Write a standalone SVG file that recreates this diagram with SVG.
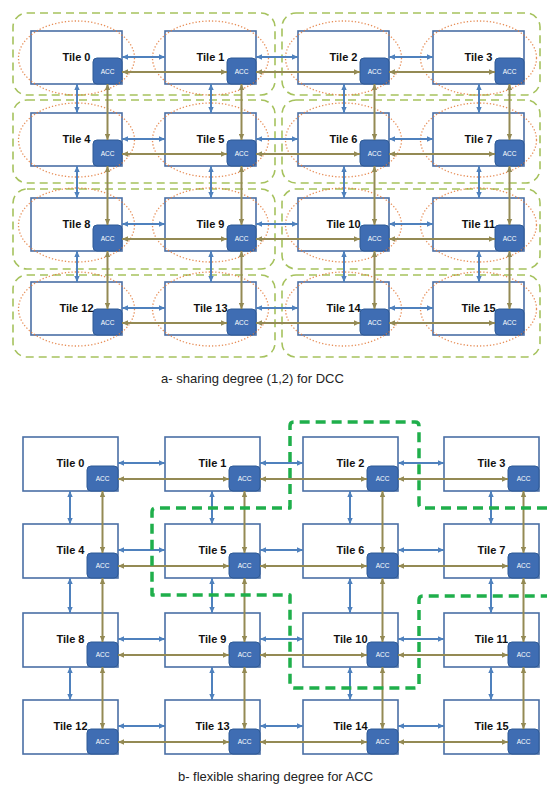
<svg xmlns="http://www.w3.org/2000/svg" width="547" height="789" viewBox="0 0 547 789">
<defs>
<style>
.tile{fill:#fff;stroke:#4A6FA5;stroke-width:1.6}
.acc{fill:#3F6DB3;stroke:#2E5A96;stroke-width:1}
.tl{font-family:"Liberation Sans",Arial,sans-serif;font-weight:bold;font-size:11px;fill:#111;text-anchor:middle}
.acct{font-family:"Liberation Sans",Arial,sans-serif;font-size:6.5px;fill:#fff;text-anchor:middle}
.cap{font-family:"Liberation Sans",Arial,sans-serif;font-size:13px;fill:#222;text-anchor:middle}
.grp{fill:none;stroke:#A6C25E;stroke-width:1.6;stroke-dasharray:8,5}
.ell{fill:none;stroke:#E37B3C;stroke-width:1.3;stroke-dasharray:1.3,2;stroke-opacity:0.85}
.bl{stroke:#4F81BD;stroke-width:2;marker-start:url(#mb);marker-end:url(#mb)}
.br{stroke:#948A54;stroke-width:2;marker-start:url(#mo);marker-end:url(#mo)}
.share{fill:none;stroke:#1FAF4B;stroke-width:3.5;stroke-dasharray:10,6;stroke-linejoin:round}
</style>
<marker id="mb" viewBox="0 0 6 6" refX="6" refY="3" markerWidth="6" markerHeight="6" markerUnits="userSpaceOnUse" orient="auto-start-reverse"><path d="M0,0.3 L6,3 L0,5.7 z" fill="#4F81BD"/></marker>
<marker id="mo" viewBox="0 0 6 6" refX="6" refY="3" markerWidth="6" markerHeight="6" markerUnits="userSpaceOnUse" orient="auto-start-reverse"><path d="M0,0.3 L6,3 L0,5.7 z" fill="#948A54"/></marker>
</defs>
<rect width="547" height="789" fill="#fff"/>

<!-- Part a: sharing groups -->
<g id="a-groups">
<rect class="grp" x="13" y="13" width="262" height="82" rx="14"/>
<rect class="grp" x="282" y="13" width="258" height="82" rx="14"/>
<rect class="grp" x="13" y="100" width="262" height="83" rx="14"/>
<rect class="grp" x="282" y="100" width="258" height="83" rx="14"/>
<rect class="grp" x="13" y="189" width="262" height="80" rx="14"/>
<rect class="grp" x="282" y="189" width="258" height="80" rx="14"/>
<rect class="grp" x="13" y="275" width="262" height="82" rx="14"/>
<rect class="grp" x="282" y="275" width="258" height="82" rx="14"/>
</g>

<!-- Part a tiles -->
<g id="a-tile0" transform="translate(31,31)"><rect class="tile" width="91" height="53"/><rect class="acc" x="62" y="27" width="29" height="26" rx="4"/><text class="tl" x="45.5" y="30">Tile 0</text><text class="acct" x="76.5" y="42.5">ACC</text></g>
<g id="a-tile1" transform="translate(165,31)"><rect class="tile" width="91" height="53"/><rect class="acc" x="62" y="27" width="29" height="26" rx="4"/><text class="tl" x="45.5" y="30">Tile 1</text><text class="acct" x="76.5" y="42.5">ACC</text></g>
<g id="a-tile2" transform="translate(298,31)"><rect class="tile" width="91" height="53"/><rect class="acc" x="62" y="27" width="29" height="26" rx="4"/><text class="tl" x="45.5" y="30">Tile 2</text><text class="acct" x="76.5" y="42.5">ACC</text></g>
<g id="a-tile3" transform="translate(433,31)"><rect class="tile" width="91" height="53"/><rect class="acc" x="62" y="27" width="29" height="26" rx="4"/><text class="tl" x="45.5" y="30">Tile 3</text><text class="acct" x="76.5" y="42.5">ACC</text></g>
<g id="a-tile4" transform="translate(31,113)"><rect class="tile" width="91" height="53"/><rect class="acc" x="62" y="27" width="29" height="26" rx="4"/><text class="tl" x="45.5" y="30">Tile 4</text><text class="acct" x="76.5" y="42.5">ACC</text></g>
<g id="a-tile5" transform="translate(165,113)"><rect class="tile" width="91" height="53"/><rect class="acc" x="62" y="27" width="29" height="26" rx="4"/><text class="tl" x="45.5" y="30">Tile 5</text><text class="acct" x="76.5" y="42.5">ACC</text></g>
<g id="a-tile6" transform="translate(298,113)"><rect class="tile" width="91" height="53"/><rect class="acc" x="62" y="27" width="29" height="26" rx="4"/><text class="tl" x="45.5" y="30">Tile 6</text><text class="acct" x="76.5" y="42.5">ACC</text></g>
<g id="a-tile7" transform="translate(433,113)"><rect class="tile" width="91" height="53"/><rect class="acc" x="62" y="27" width="29" height="26" rx="4"/><text class="tl" x="45.5" y="30">Tile 7</text><text class="acct" x="76.5" y="42.5">ACC</text></g>
<g id="a-tile8" transform="translate(31,198)"><rect class="tile" width="91" height="53"/><rect class="acc" x="62" y="27" width="29" height="26" rx="4"/><text class="tl" x="45.5" y="30">Tile 8</text><text class="acct" x="76.5" y="42.5">ACC</text></g>
<g id="a-tile9" transform="translate(165,198)"><rect class="tile" width="91" height="53"/><rect class="acc" x="62" y="27" width="29" height="26" rx="4"/><text class="tl" x="45.5" y="30">Tile 9</text><text class="acct" x="76.5" y="42.5">ACC</text></g>
<g id="a-tile10" transform="translate(298,198)"><rect class="tile" width="91" height="53"/><rect class="acc" x="62" y="27" width="29" height="26" rx="4"/><text class="tl" x="45.5" y="30">Tile 10</text><text class="acct" x="76.5" y="42.5">ACC</text></g>
<g id="a-tile11" transform="translate(433,198)"><rect class="tile" width="91" height="53"/><rect class="acc" x="62" y="27" width="29" height="26" rx="4"/><text class="tl" x="45.5" y="30">Tile 11</text><text class="acct" x="76.5" y="42.5">ACC</text></g>
<g id="a-tile12" transform="translate(31,282)"><rect class="tile" width="91" height="53"/><rect class="acc" x="62" y="27" width="29" height="26" rx="4"/><text class="tl" x="45.5" y="30">Tile 12</text><text class="acct" x="76.5" y="42.5">ACC</text></g>
<g id="a-tile13" transform="translate(165,282)"><rect class="tile" width="91" height="53"/><rect class="acc" x="62" y="27" width="29" height="26" rx="4"/><text class="tl" x="45.5" y="30">Tile 13</text><text class="acct" x="76.5" y="42.5">ACC</text></g>
<g id="a-tile14" transform="translate(298,282)"><rect class="tile" width="91" height="53"/><rect class="acc" x="62" y="27" width="29" height="26" rx="4"/><text class="tl" x="45.5" y="30">Tile 14</text><text class="acct" x="76.5" y="42.5">ACC</text></g>
<g id="a-tile15" transform="translate(433,282)"><rect class="tile" width="91" height="53"/><rect class="acc" x="62" y="27" width="29" height="26" rx="4"/><text class="tl" x="45.5" y="30">Tile 15</text><text class="acct" x="76.5" y="42.5">ACC</text></g>

<!-- Part a: DCC ellipses -->
<g id="a-dcc">
<ellipse class="ell" cx="76.5" cy="58" rx="58" ry="37"/>
<ellipse class="ell" cx="210.5" cy="58" rx="58" ry="37"/>
<ellipse class="ell" cx="343.5" cy="58" rx="58" ry="37"/>
<ellipse class="ell" cx="478.5" cy="58" rx="58" ry="37"/>
<ellipse class="ell" cx="76.5" cy="140" rx="58" ry="37"/>
<ellipse class="ell" cx="210.5" cy="140" rx="58" ry="37"/>
<ellipse class="ell" cx="343.5" cy="140" rx="58" ry="37"/>
<ellipse class="ell" cx="478.5" cy="140" rx="58" ry="37"/>
<ellipse class="ell" cx="76.5" cy="225" rx="58" ry="37"/>
<ellipse class="ell" cx="210.5" cy="225" rx="58" ry="37"/>
<ellipse class="ell" cx="343.5" cy="225" rx="58" ry="37"/>
<ellipse class="ell" cx="478.5" cy="225" rx="58" ry="37"/>
<ellipse class="ell" cx="76.5" cy="309" rx="58" ry="37"/>
<ellipse class="ell" cx="210.5" cy="309" rx="58" ry="37"/>
<ellipse class="ell" cx="343.5" cy="309" rx="58" ry="37"/>
<ellipse class="ell" cx="478.5" cy="309" rx="58" ry="37"/>
</g>

<!-- Part a connectors -->
<g id="a-connectors">
<line class="bl" x1="122" y1="57" x2="165" y2="57"/><line class="bl" x1="256" y1="57" x2="298" y2="57"/><line class="bl" x1="389" y1="57" x2="433" y2="57"/>
<line class="bl" x1="122" y1="139" x2="165" y2="139"/><line class="bl" x1="256" y1="139" x2="298" y2="139"/><line class="bl" x1="389" y1="139" x2="433" y2="139"/>
<line class="bl" x1="122" y1="224" x2="165" y2="224"/><line class="bl" x1="256" y1="224" x2="298" y2="224"/><line class="bl" x1="389" y1="224" x2="433" y2="224"/>
<line class="bl" x1="122" y1="308" x2="165" y2="308"/><line class="bl" x1="256" y1="308" x2="298" y2="308"/><line class="bl" x1="389" y1="308" x2="433" y2="308"/>
<line class="br" x1="122" y1="72" x2="227" y2="72"/><line class="br" x1="256" y1="72" x2="360" y2="72"/><line class="br" x1="389" y1="72" x2="495" y2="72"/>
<line class="br" x1="122" y1="154" x2="227" y2="154"/><line class="br" x1="256" y1="154" x2="360" y2="154"/><line class="br" x1="389" y1="154" x2="495" y2="154"/>
<line class="br" x1="122" y1="239" x2="227" y2="239"/><line class="br" x1="256" y1="239" x2="360" y2="239"/><line class="br" x1="389" y1="239" x2="495" y2="239"/>
<line class="br" x1="122" y1="323" x2="227" y2="323"/><line class="br" x1="256" y1="323" x2="360" y2="323"/><line class="br" x1="389" y1="323" x2="495" y2="323"/>
<line class="bl" x1="77" y1="84" x2="77" y2="113"/><line class="bl" x1="211" y1="84" x2="211" y2="113"/><line class="bl" x1="344" y1="84" x2="344" y2="113"/><line class="bl" x1="479" y1="84" x2="479" y2="113"/>
<line class="bl" x1="77" y1="166" x2="77" y2="198"/><line class="bl" x1="211" y1="166" x2="211" y2="198"/><line class="bl" x1="344" y1="166" x2="344" y2="198"/><line class="bl" x1="479" y1="166" x2="479" y2="198"/>
<line class="bl" x1="77" y1="251" x2="77" y2="282"/><line class="bl" x1="211" y1="251" x2="211" y2="282"/><line class="bl" x1="344" y1="251" x2="344" y2="282"/><line class="bl" x1="479" y1="251" x2="479" y2="282"/>
<line class="br" x1="107.5" y1="84" x2="107.5" y2="140"/><line class="br" x1="241.5" y1="84" x2="241.5" y2="140"/><line class="br" x1="374.5" y1="84" x2="374.5" y2="140"/><line class="br" x1="509.5" y1="84" x2="509.5" y2="140"/>
<line class="br" x1="107.5" y1="166" x2="107.5" y2="225"/><line class="br" x1="241.5" y1="166" x2="241.5" y2="225"/><line class="br" x1="374.5" y1="166" x2="374.5" y2="225"/><line class="br" x1="509.5" y1="166" x2="509.5" y2="225"/>
<line class="br" x1="107.5" y1="251" x2="107.5" y2="309"/><line class="br" x1="241.5" y1="251" x2="241.5" y2="309"/><line class="br" x1="374.5" y1="251" x2="374.5" y2="309"/><line class="br" x1="509.5" y1="251" x2="509.5" y2="309"/>
</g>

<text class="cap" x="252.5" y="383">a- sharing degree (1,2) for DCC</text>

<!-- Part b tiles -->
<g id="b-tile0" transform="translate(23,437)"><rect class="tile" width="95" height="54"/><rect class="acc" x="64" y="29" width="31" height="25" rx="4"/><text class="tl" x="47.5" y="30">Tile 0</text><text class="acct" x="79.5" y="44">ACC</text></g>
<g id="b-tile1" transform="translate(165,437)"><rect class="tile" width="95" height="54"/><rect class="acc" x="64" y="29" width="31" height="25" rx="4"/><text class="tl" x="47.5" y="30">Tile 1</text><text class="acct" x="79.5" y="44">ACC</text></g>
<g id="b-tile2" transform="translate(303,437)"><rect class="tile" width="95" height="54"/><rect class="acc" x="64" y="29" width="31" height="25" rx="4"/><text class="tl" x="47.5" y="30">Tile 2</text><text class="acct" x="79.5" y="44">ACC</text></g>
<g id="b-tile3" transform="translate(444,437)"><rect class="tile" width="95" height="54"/><rect class="acc" x="64" y="29" width="31" height="25" rx="4"/><text class="tl" x="47.5" y="30">Tile 3</text><text class="acct" x="79.5" y="44">ACC</text></g>
<g id="b-tile4" transform="translate(23,524)"><rect class="tile" width="95" height="54"/><rect class="acc" x="64" y="29" width="31" height="25" rx="4"/><text class="tl" x="47.5" y="30">Tile 4</text><text class="acct" x="79.5" y="44">ACC</text></g>
<g id="b-tile5" transform="translate(165,524)"><rect class="tile" width="95" height="54"/><rect class="acc" x="64" y="29" width="31" height="25" rx="4"/><text class="tl" x="47.5" y="30">Tile 5</text><text class="acct" x="79.5" y="44">ACC</text></g>
<g id="b-tile6" transform="translate(303,524)"><rect class="tile" width="95" height="54"/><rect class="acc" x="64" y="29" width="31" height="25" rx="4"/><text class="tl" x="47.5" y="30">Tile 6</text><text class="acct" x="79.5" y="44">ACC</text></g>
<g id="b-tile7" transform="translate(444,524)"><rect class="tile" width="95" height="54"/><rect class="acc" x="64" y="29" width="31" height="25" rx="4"/><text class="tl" x="47.5" y="30">Tile 7</text><text class="acct" x="79.5" y="44">ACC</text></g>
<g id="b-tile8" transform="translate(23,613)"><rect class="tile" width="95" height="54"/><rect class="acc" x="64" y="29" width="31" height="25" rx="4"/><text class="tl" x="47.5" y="30">Tile 8</text><text class="acct" x="79.5" y="44">ACC</text></g>
<g id="b-tile9" transform="translate(165,613)"><rect class="tile" width="95" height="54"/><rect class="acc" x="64" y="29" width="31" height="25" rx="4"/><text class="tl" x="47.5" y="30">Tile 9</text><text class="acct" x="79.5" y="44">ACC</text></g>
<g id="b-tile10" transform="translate(303,613)"><rect class="tile" width="95" height="54"/><rect class="acc" x="64" y="29" width="31" height="25" rx="4"/><text class="tl" x="47.5" y="30">Tile 10</text><text class="acct" x="79.5" y="44">ACC</text></g>
<g id="b-tile11" transform="translate(444,613)"><rect class="tile" width="95" height="54"/><rect class="acc" x="64" y="29" width="31" height="25" rx="4"/><text class="tl" x="47.5" y="30">Tile 11</text><text class="acct" x="79.5" y="44">ACC</text></g>
<g id="b-tile12" transform="translate(23,700)"><rect class="tile" width="95" height="54"/><rect class="acc" x="64" y="29" width="31" height="25" rx="4"/><text class="tl" x="47.5" y="30">Tile 12</text><text class="acct" x="79.5" y="44">ACC</text></g>
<g id="b-tile13" transform="translate(165,700)"><rect class="tile" width="95" height="54"/><rect class="acc" x="64" y="29" width="31" height="25" rx="4"/><text class="tl" x="47.5" y="30">Tile 13</text><text class="acct" x="79.5" y="44">ACC</text></g>
<g id="b-tile14" transform="translate(303,700)"><rect class="tile" width="95" height="54"/><rect class="acc" x="64" y="29" width="31" height="25" rx="4"/><text class="tl" x="47.5" y="30">Tile 14</text><text class="acct" x="79.5" y="44">ACC</text></g>
<g id="b-tile15" transform="translate(444,700)"><rect class="tile" width="95" height="54"/><rect class="acc" x="64" y="29" width="31" height="25" rx="4"/><text class="tl" x="47.5" y="30">Tile 15</text><text class="acct" x="79.5" y="44">ACC</text></g>

<!-- Part b connectors -->
<g id="b-connectors">
<line class="bl" x1="118" y1="463" x2="165" y2="463"/><line class="bl" x1="260" y1="463" x2="303" y2="463"/><line class="bl" x1="398" y1="463" x2="444" y2="463"/>
<line class="bl" x1="118" y1="550" x2="165" y2="550"/><line class="bl" x1="260" y1="550" x2="303" y2="550"/><line class="bl" x1="398" y1="550" x2="444" y2="550"/>
<line class="bl" x1="118" y1="639" x2="165" y2="639"/><line class="bl" x1="260" y1="639" x2="303" y2="639"/><line class="bl" x1="398" y1="639" x2="444" y2="639"/>
<line class="bl" x1="118" y1="726" x2="165" y2="726"/><line class="bl" x1="260" y1="726" x2="303" y2="726"/><line class="bl" x1="398" y1="726" x2="444" y2="726"/>
<line class="br" x1="118" y1="479" x2="229" y2="479"/><line class="br" x1="260" y1="479" x2="367" y2="479"/><line class="br" x1="398" y1="479" x2="508" y2="479"/>
<line class="br" x1="118" y1="566" x2="229" y2="566"/><line class="br" x1="260" y1="566" x2="367" y2="566"/><line class="br" x1="398" y1="566" x2="508" y2="566"/>
<line class="br" x1="118" y1="655" x2="229" y2="655"/><line class="br" x1="260" y1="655" x2="367" y2="655"/><line class="br" x1="398" y1="655" x2="508" y2="655"/>
<line class="br" x1="118" y1="742" x2="229" y2="742"/><line class="br" x1="260" y1="742" x2="367" y2="742"/><line class="br" x1="398" y1="742" x2="508" y2="742"/>
<line class="bl" x1="70" y1="491" x2="70" y2="524"/><line class="bl" x1="212" y1="491" x2="212" y2="524"/><line class="bl" x1="350" y1="491" x2="350" y2="524"/><line class="bl" x1="491" y1="491" x2="491" y2="524"/>
<line class="bl" x1="70" y1="578" x2="70" y2="613"/><line class="bl" x1="212" y1="578" x2="212" y2="613"/><line class="bl" x1="350" y1="578" x2="350" y2="613"/><line class="bl" x1="491" y1="578" x2="491" y2="613"/>
<line class="bl" x1="70" y1="667" x2="70" y2="700"/><line class="bl" x1="212" y1="667" x2="212" y2="700"/><line class="bl" x1="350" y1="667" x2="350" y2="700"/><line class="bl" x1="491" y1="667" x2="491" y2="700"/>
<line class="br" x1="102.5" y1="491" x2="102.5" y2="553"/><line class="br" x1="244.5" y1="491" x2="244.5" y2="553"/><line class="br" x1="382.5" y1="491" x2="382.5" y2="553"/><line class="br" x1="523.5" y1="491" x2="523.5" y2="553"/>
<line class="br" x1="102.5" y1="578" x2="102.5" y2="642"/><line class="br" x1="244.5" y1="578" x2="244.5" y2="642"/><line class="br" x1="382.5" y1="578" x2="382.5" y2="642"/><line class="br" x1="523.5" y1="578" x2="523.5" y2="642"/>
<line class="br" x1="102.5" y1="667" x2="102.5" y2="729"/><line class="br" x1="244.5" y1="667" x2="244.5" y2="729"/><line class="br" x1="382.5" y1="667" x2="382.5" y2="729"/><line class="br" x1="523.5" y1="667" x2="523.5" y2="729"/>
</g>

<!-- Part b: flexible sharing boundary -->
<path id="b-sharing" class="share" d="M547,508 H423 Q419,508 419,504 V426 Q419,422 415,422 H294 Q290,422 290,426 V508 H156 Q152,508 152,512 V595 H290 V684 Q290,688 294,688 H415 Q419,688 419,684 V600 Q419,596 423,596 H547"/>

<text class="cap" x="275.5" y="781">b- flexible sharing degree for ACC</text>
</svg>
